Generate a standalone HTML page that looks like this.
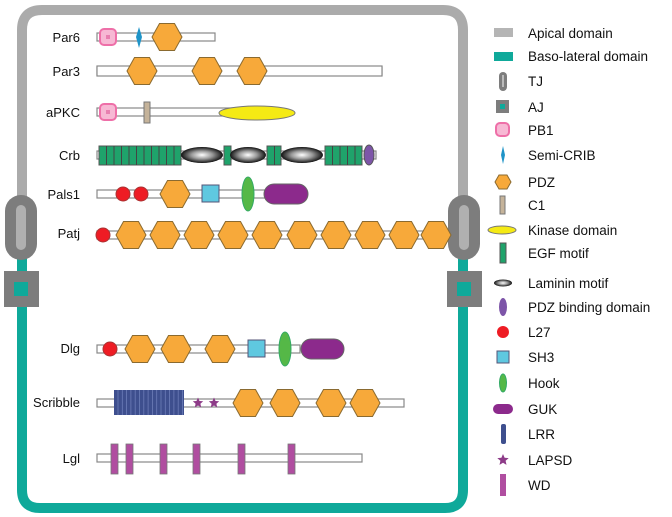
<!DOCTYPE html>
<html><head><meta charset="utf-8"><style>
html,body{margin:0;padding:0;background:#fff;width:672px;height:517px;overflow:hidden}
svg text{font-family:"Liberation Sans",Arial,sans-serif;fill:#111}
</style></head><body>
<svg id="s" width="672" height="517" viewBox="0 0 672 517" xmlns="http://www.w3.org/2000/svg">
<defs>
<radialGradient id="lam" cx="50%" cy="50%" r="50%"><stop offset="0" stop-color="#fff"/><stop offset="0.5" stop-color="#999"/><stop offset="1" stop-color="#111"/></radialGradient>
</defs>
<!-- frame -->
<path d="M22 200 V30 Q22 10 42 10 H443 Q463 10 463 30 V200" fill="none" stroke="#ababab" stroke-width="10"/>
<path d="M22 255 V490 Q22 508 40 508 H445 Q463 508 463 490 V255" fill="none" stroke="#0fa99a" stroke-width="10"/>
<g id="junc"></g>
<g id="rows" font-size="13"></g>
<g id="leg" font-size="13.5"></g>
</svg>
<script>
const NS="http://www.w3.org/2000/svg";
function el(p,t,a,txt){const e=document.createElementNS(NS,t);for(const k in a)e.setAttribute(k,a[k]);if(txt)e.textContent=txt;document.getElementById(p).appendChild(e);return e;}
// junctions
[21,464].forEach(x=>{
 el('junc','rect',{x:x-16,y:195,width:32,height:65,rx:16,fill:'#7d7d7d'});
 el('junc','rect',{x:x-5,y:205,width:10,height:45,rx:5,fill:'#b0b0b0'});
 el('junc','rect',{x:x-17,y:271,width:35,height:36,fill:'#7d7d7d'});
 el('junc','rect',{x:x-7,y:282,width:14,height:14,fill:'#0fa99a'});
});
const S='#666';
function bar(y,x2){el('rows','rect',{x:97,y:y-4,width:x2-97,height:8,fill:'#fff',stroke:'#888','stroke-width':1.2});}
function hex(cx,cy,w,h){w=w||30;h=h||27;const a=w/2,q=w/4;el('rows','polygon',{points:`${cx-a},${cy} ${cx-q},${cy-h/2} ${cx+q},${cy-h/2} ${cx+a},${cy} ${cx+q},${cy+h/2} ${cx-q},${cy+h/2}`,fill:'#f7a93a',stroke:'#8a6a30','stroke-width':1});}
function lab(t,y){el('rows','text',{x:80,y:y+5,'text-anchor':'end'},t);}
function pb1(cx,cy){el('rows','rect',{x:cx-8,y:cy-8,width:16,height:16,rx:4,fill:'#f7b8d4',stroke:'#ee6fa8','stroke-width':2});el('rows','rect',{x:cx-2,y:cy-2,width:4,height:4,fill:'#e87fb0'});}
function circ(cx,cy){el('rows','circle',{cx,cy,r:7,fill:'#ee1c24',stroke:'#a33','stroke-width':1});}
function sq(x,cy){el('rows','rect',{x,y:cy-9,width:17,height:17,fill:'#5fc8e0',stroke:'#557','stroke-width':1});}
function hook(cx,cy){el('rows','ellipse',{cx,cy,rx:6,ry:17,fill:'#55b847',stroke:'#3a6','stroke-width':1});}
function guk(x,w,cy){el('rows','rect',{x,y:cy-10,width:w,height:20,rx:10,fill:'#8c2a8c',stroke:'#666','stroke-width':1});}
// Par6
lab('Par6',37);bar(37,215);pb1(108,37);
el('rows','polygon',{points:'139,27 142,37 139,48 136,37',fill:'#1f94c8'});hex(167,37);
// Par3
lab('Par3',71);bar(71,382);el('rows','rect',{x:97,y:66,width:285,height:10,fill:'#fff',stroke:'#888','stroke-width':1.2});
hex(142,71);hex(207,71);hex(252,71);
// aPKC
lab('aPKC',112);bar(112,260);pb1(108,112);el('rows','rect',{x:144,y:102,width:6,height:21,fill:'#c5b39a',stroke:'#777','stroke-width':1});
el('rows','ellipse',{cx:257,cy:113,rx:38,ry:7,fill:'#f5ea14',stroke:'#777','stroke-width':1});
// Crb
lab('Crb',155);bar(155,376);
function egf(x1,x2){el('rows','rect',{x:x1,y:146,width:x2-x1,height:19,fill:'#1fa36b',stroke:'#555','stroke-width':1});for(let x=x1+7.5;x<x2-2;x+=7.5)el('rows','line',{x1:x,y1:146,x2:x,y2:165,stroke:'#444','stroke-width':1});}
egf(99,181);egf(224,231);egf(267,281);egf(325,362);
[[202,21],[248,18],[302,21]].forEach(([c,r])=>el('rows','ellipse',{cx:c,cy:155,rx:r,ry:8,fill:'url(#lam)'}));
el('rows','ellipse',{cx:369,cy:155,rx:5,ry:10,fill:'#7d55a8',stroke:'#555','stroke-width':1});
// Pals1
lab('Pals1',194);bar(194,300);circ(123,194);circ(141,194);hex(175,194);sq(202,194);hook(248,194);guk(264,44,194);
// Patj
lab('Patj',233);bar(235,440);circ(103,235);[131,165,199,233,267,302,336,370,404,436].forEach(x=>hex(x,235));
// Dlg
lab('Dlg',348);bar(349,300);circ(110,349);hex(140,349);hex(176,349);hex(220,349);sq(248,349);hook(285,349);guk(301,43,349);
// Scribble
lab('Scribble',402);bar(403,404);
el('rows','rect',{x:114,y:390,width:70,height:25,fill:'#3e4f8e'});
for(let x=118;x<184;x+=4.3)el('rows','line',{x1:x,y1:390,x2:x,y2:415,stroke:'#6d7db8','stroke-width':0.8});
function star(cx,cy,r){let p=[];for(let i=0;i<10;i++){const rr=i%2?r*0.45:r,a=-Math.PI/2+i*Math.PI/5;p.push((cx+rr*Math.cos(a)).toFixed(1)+','+(cy+rr*Math.sin(a)).toFixed(1));}el('rows','polygon',{points:p.join(' '),fill:'#8d3b88'});}
star(198,403,5.5);star(214,403,5.5);
hex(248,403);hex(285,403);hex(331,403);hex(365,403);
// Lgl
lab('Lgl',458);bar(458,362);[111,126,160,193,238,288].forEach(x=>el('rows','rect',{x,y:444,width:7,height:30,fill:'#b04ea0',stroke:'#777','stroke-width':0.8}));
// legend
const L=[['Apical domain',33],['Baso-lateral domain',56],['TJ',81],['AJ',107],['PB1',130],['Semi-CRIB',155],['PDZ',182],['C1',205],['Kinase domain',230],['EGF motif',253],['Laminin motif',283],['PDZ binding domain',307],['L27',332],['SH3',357],['Hook',383],['GUK',409],['LRR',434],['LAPSD',460],['WD',485]];
L.forEach(([t,y])=>el('leg','text',{x:528,y:y+5},t));
const X=503;
el('leg','rect',{x:494,y:28,width:19,height:9,fill:'#b5b5b5'});
el('leg','rect',{x:494,y:52,width:19,height:9,fill:'#0fa99a'});
el('leg','rect',{x:499,y:72,width:8,height:19,rx:4,fill:'#7d7d7d'});el('leg','rect',{x:502,y:75,width:2,height:12,fill:'#bbb'});
el('leg','rect',{x:496,y:100,width:13,height:13,fill:'#7d7d7d'});el('leg','rect',{x:500,y:104,width:5,height:5,fill:'#0fa99a'});
el('leg','rect',{x:496,y:123,width:13,height:13,rx:4,fill:'#f7b8d4',stroke:'#ee6fa8','stroke-width':2});
el('leg','polygon',{points:'503,146 505,155 503,164 501,155',fill:'#1f94c8'});
(function(){const cx=503,cy=182,a=8,q=4,h=7;el('leg','polygon',{points:`${cx-a},${cy} ${cx-q},${cy-h} ${cx+q},${cy-h} ${cx+a},${cy} ${cx+q},${cy+h} ${cx-q},${cy+h}`,fill:'#f7a93a',stroke:'#8a6a30'});})();
el('leg','rect',{x:500,y:196,width:5,height:18,fill:'#c5b39a',stroke:'#777'});
el('leg','ellipse',{cx:502,cy:230,rx:14,ry:4,fill:'#f5ea14',stroke:'#777'});
el('leg','rect',{x:500,y:243,width:6,height:20,fill:'#1fa36b',stroke:'#555'});
el('leg','ellipse',{cx:503,cy:283,rx:9,ry:3.5,fill:'url(#lam)'});
el('leg','ellipse',{cx:503,cy:307,rx:4,ry:9,fill:'#7d55a8'});
el('leg','circle',{cx:503,cy:332,r:6,fill:'#ee1c24'});
el('leg','rect',{x:497,y:351,width:12,height:12,fill:'#5fc8e0',stroke:'#557'});
el('leg','ellipse',{cx:503,cy:383,rx:3.5,ry:9,fill:'#55b847',stroke:'#3a6'});
el('leg','rect',{x:493,y:404,width:20,height:10,rx:5,fill:'#8c2a8c'});
el('leg','rect',{x:501,y:424,width:5,height:20,rx:2,fill:'#3e4f8e'});
star(503,460,6);document.getElementById('leg').appendChild(document.getElementById('rows').lastChild);
el('leg','rect',{x:500,y:474,width:6,height:22,fill:'#b04ea0'});
</script>
</body></html>
